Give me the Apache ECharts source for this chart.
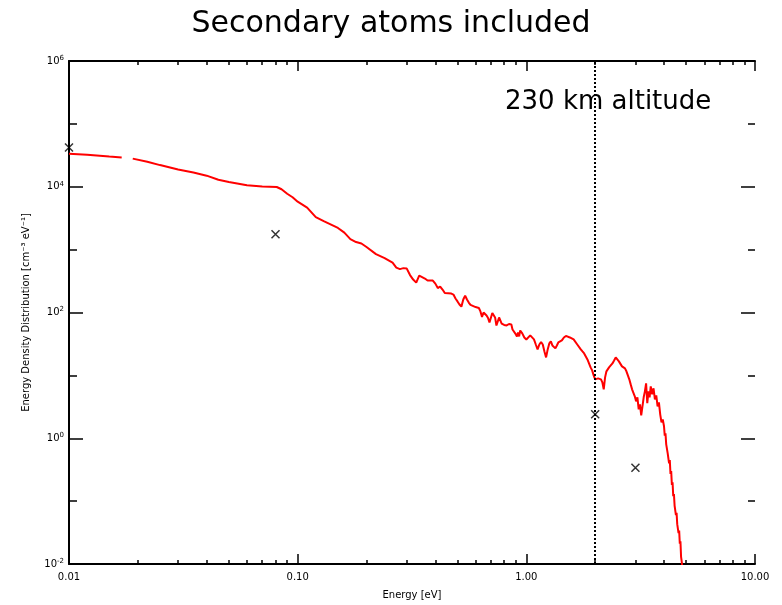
<!DOCTYPE html>
<html>
<head>
<meta charset="utf-8">
<script src="https://cdn.jsdelivr.net/npm/echarts@6/dist/echarts.min.js"></script>
<style>
html,body{margin:0;padding:0;background:#fff;}
#chart{width:782px;height:605px;}
</style>
</head>
<body>
<div id="chart"></div>
<script>
// ---- data ----
const energy = [
  0.01,0.012,0.015,0.017,0.018,0.019,0.022,0.025,0.03,0.035,0.04,0.045,0.05,0.06,0.07,0.081,0.085,0.09,0.095,
  0.1,0.11,0.12,0.13,0.14,0.15,0.16,0.17,0.18,0.19,0.2,0.22,0.24,0.26,0.27,0.28,0.29,0.30,0.31,0.32,0.33,0.34,0.35,0.36,0.37,0.39,
  0.40,0.41,0.42,0.43,0.44,0.47,0.48,0.49,0.50,0.51,0.52,0.53,0.54,0.55,0.56,0.57,0.58,0.60,0.62,0.63,0.64,0.65,0.66,0.67,0.68,0.69,
  0.70,0.71,0.72,0.73,0.74,0.75,0.76,0.78,0.80,0.82,0.84,0.86,0.87,0.88,0.90,0.91,0.92,0.93,0.94,0.96,0.98,
  1.00,1.02,1.04,1.06,1.08,1.10,1.12,1.14,1.16,1.18,1.20,1.22,1.24,1.26,1.28,1.30,1.32,1.34,1.36,1.38,1.40,1.43,1.46,1.49,
  1.52,1.55,1.58,1.61,1.64,1.67,1.70,1.73,1.76,1.79,1.82,1.85,1.88,1.91,1.94,1.97,
  2.00,2.03,2.06,2.09,2.12,2.15,2.18,2.21,2.24,2.27,2.30,2.34,2.38,2.42,2.46,2.50,2.54,2.58,2.62,2.66,2.70,2.74,2.78,2.82,2.86,2.90,2.94,2.98,
  3.02,3.06,3.10,3.14,3.18,3.22,3.26,3.30,3.34,3.38,3.42,3.46,3.50,3.55,3.60,3.65,3.70,3.75,3.80,3.85,3.90,3.95,
  4.00,4.03,4.06,4.09,4.12,4.15,4.18,4.21,4.24,4.27,4.30,4.33,4.36,4.39,4.42,4.45,4.48,4.51,4.54,4.57,4.60,4.63,4.66,4.69,4.72,4.75,4.78,4.80
];
const density = [
  3.34e4,3.22e4,3.03e4,2.93e4,null,2.80e4,2.50e4,2.21e4,1.88e4,1.69e4,1.50e4,1.29e4,1.19e4,1.06e4,1.01e4,9.9e3,9.12e3,7.74e3,6.81e3,
  5.78e3,4.65e3,3.28e3,2.83e3,2.49e3,2.21e3,1.86e3,1.47e3,1.32e3,1.25e3,1.10e3,849,733,622,518,490,508,499,394,334,299,386,366,347,322,322,
  288,245,259,232,204,200,193,167,150,134,124,161,186,161,144,132,127,122,118,104,84.9,100,104,89.5,81.8,69.4,
  64.6,98.2,104,83.4,62.2,71.9,83.4,66.8,63.4,62.2,65.6,64.6,53.7,55.7,44.8,41.6,48.2,41.6,51.8,46.5,40.1,
  37.3,38.6,43.2,45.6,37.3,31.0,25.9,31.0,34.0,31.0,24.0,19.3,25.9,32.2,34.7,29.9,31.6,26.9,29.9,33.4,34.7,36.0,40.1,42.4,
  43.2,40.1,41.6,37.3,34.7,31.0,29.9,25.9,24.0,22.3,20.0,17.9,16.7,13.4,12.0,10.0,
  8.65,9.29,8.96,9.64,8.65,7.74,6.00,9.29,11.6,10.8,13.4,14.4,15.5,17.3,19.3,18.6,16.7,16.1,13.9,14.4,12.9,11.6,10.0,8.65,7.19,6.00,6.45,4.64,
  3.86,4.48,2.88,3.47,2.32,3.22,4.48,5.57,7.46,3.60,5.57,4.48,6.68,4.99,6.22,4.16,4.82,3.22,3.72,2.40,1.79,2.00,
  1.55,1.10,1.20,0.80,0.85,0.58,0.62,0.40,0.45,0.27,0.30,0.18,0.20,0.12,0.13,0.085,0.09,0.06,0.065,0.043,0.046,0.031,0.034,0.021,0.023,0.013,0.011,0.0095
];
const markerEnergy = [0.01, 0.08, 2.0, 3.0];
const markerDensity = [4.2e4, 1.75e3, 2.4, 0.34];
const refLineEnergy = 2.0;
const xMajorTicks = [0.01, 0.1, 1, 10];
const xMinorTicks = [0.02,0.03,0.04,0.05,0.06,0.07,0.08,0.09,0.2,0.3,0.4,0.5,0.6,0.7,0.8,0.9,2,3,4,5,6,7,8,9];
const yMajorTicks = [1e-2, 1, 1e2, 1e4, 1e6];
const yMinorTicks = [1e-1, 1e1, 1e3, 1e5];
const titleText = 'Secondary atoms included';
const noteText = '230 km altitude';
const xName = 'Energy [eV]';
const yName = 'Energy Density Distribution [cm\u207B\u00B3 eV\u207B\u00B9]';

// ---- chart ----
const FONT = 'DejaVu Sans';
const lineData = energy.map((e, i) => [e, density[i] == null ? '-' : density[i]]);
const markerData = markerEnergy.map((e, i) => [e, markerDensity[i]]);

function xAxisDef(pos, ticks, len, opts) {
  return Object.assign({
    type: 'log', logBase: 10, min: 0.01, max: 10, position: pos,
    axisLine: { show: false },
    axisTick: { show: true, inside: true, length: len, customValues: ticks, lineStyle: { color: '#000', width: 1.5 } },
    axisLabel: { show: false },
    splitLine: { show: false }, minorTick: { show: false }, minorSplitLine: { show: false }
  }, opts || {});
}
function yAxisDef(pos, ticks, len, opts) {
  return Object.assign({
    type: 'log', logBase: 10, min: 1e-2, max: 1e6, position: pos,
    axisLine: { show: false },
    axisTick: { show: true, inside: true, length: len, customValues: ticks, lineStyle: { color: '#000', width: 1.5 } },
    axisLabel: { show: false },
    splitLine: { show: false }, minorTick: { show: false }, minorSplitLine: { show: false }
  }, opts || {});
}

const option = {
  animation: false,
  backgroundColor: '#fff',
  title: {
    text: titleText, left: 'center', top: 4,
    textStyle: { fontFamily: FONT, fontSize: 30, fontWeight: 'normal', color: '#000' }
  },
  grid: { left: 69, right: 27, top: 61, bottom: 40, containLabel: false },
  xAxis: [
    xAxisDef('bottom', xMajorTicks, 10, {
      axisLine: { show: true, onZero: false, lineStyle: { color: '#000', width: 2 } },
      axisLabel: {
        show: true, customValues: xMajorTicks, margin: 8,
        fontFamily: FONT, fontSize: 10, color: '#000',
        formatter: v => Number(v).toFixed(2)
      },
      name: xName, nameLocation: 'middle', nameGap: 26,
      nameTextStyle: { fontFamily: FONT, fontSize: 10, color: '#000' }
    }),
    xAxisDef('bottom', xMinorTicks, 4),
    xAxisDef('top', xMajorTicks, 10, {
      axisLine: { show: true, onZero: false, lineStyle: { color: '#000', width: 2 } }
    }),
    xAxisDef('top', xMinorTicks, 4)
  ],
  yAxis: [
    yAxisDef('left', yMajorTicks, 14, {
      axisLine: { show: true, onZero: false, lineStyle: { color: '#000', width: 2 } },
      axisLabel: {
        show: true, customValues: yMajorTicks, margin: 5,
        formatter: v => '{b|10}{s|' + Math.round(Math.log10(v)) + '}',
        rich: {
          b: { fontFamily: FONT, fontSize: 10, color: '#000' },
          s: { fontFamily: FONT, fontSize: 7, color: '#000', padding: [0, 0, 6, 0] }
        }
      },
      name: yName, nameLocation: 'middle', nameGap: 38, nameRotate: 90,
      nameTextStyle: { fontFamily: FONT, fontSize: 10, color: '#000' }
    }),
    yAxisDef('left', yMinorTicks, 8),
    yAxisDef('right', yMajorTicks, 14),
    yAxisDef('right', yMinorTicks, 7)
  ],
  series: [
    {
      type: 'line', xAxisIndex: 0, yAxisIndex: 0,
      data: lineData, showSymbol: false, symbol: 'none', connectNulls: false,
      lineStyle: { color: '#ff0000', width: 2 },
      clip: true,
      markLine: {
        silent: true, symbol: ['none', 'none'], label: { show: false },
        lineStyle: { color: '#000', type: [2, 2], width: 2 },
        data: [{ xAxis: refLineEnergy }]
      },
      z: 3
    },
    {
      type: 'scatter', xAxisIndex: 0, yAxisIndex: 0,
      data: markerData,
      symbol: 'path://M0,0L10,10M10,0L0,10', symbolSize: 8,
      itemStyle: { color: 'none', borderColor: '#000', borderWidth: 1.5 },
      z: 4
    }
  ],
  graphic: [
    {
      type: 'text', left: 505, top: 89,
      style: { text: noteText, fontFamily: FONT, fontSize: 26, fill: '#000' }
    }
  ]
};

const chart = echarts.init(document.getElementById('chart'), null, { renderer: 'canvas' });
chart.setOption(option);
</script>
</body>
</html>
